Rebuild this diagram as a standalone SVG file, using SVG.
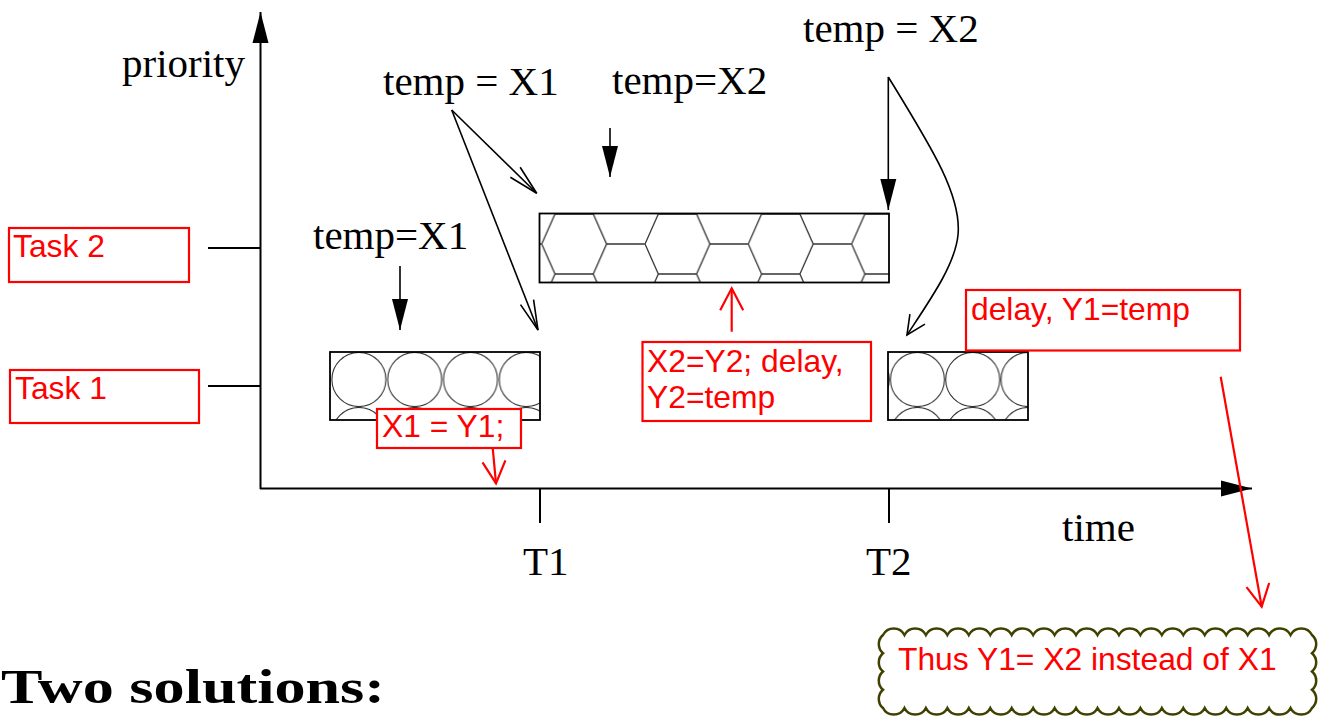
<svg xmlns="http://www.w3.org/2000/svg" width="1327" height="718" viewBox="0 0 1327 718">
<style>
.ser{font-family:"Liberation Serif","Times New Roman",serif;font-size:41px;fill:#000}
.red{font-family:"Liberation Sans",Arial,sans-serif;font-size:31.8px;fill:#ff0000}
.rbox{fill:#fff;stroke:#ff0000;stroke-width:2.2}
.blk{fill:none;stroke:#000;stroke-width:1.6}
.axis{fill:none;stroke:#000;stroke-width:2}
.rl{fill:none;stroke:#ff0000;stroke-width:2.2}
.pbox{fill:none;stroke:#000;stroke-width:1.8}
</style>
<defs>
<marker id="fa" markerUnits="userSpaceOnUse" markerWidth="32" markerHeight="16" refX="31" refY="8" orient="auto" overflow="visible">
<path d="M0,0 L31,8 L0,16 z" fill="#000"/>
</marker>
<marker id="ob" markerUnits="userSpaceOnUse" markerWidth="31" markerHeight="15" refX="30" refY="7" orient="auto" overflow="visible">
<path d="M0,0 L30,7 L0,14" fill="none" stroke="#000" stroke-width="1.6"/>
</marker>
<marker id="oc" markerUnits="userSpaceOnUse" markerWidth="20" markerHeight="18" refX="19" refY="9" orient="auto" overflow="visible">
<path d="M0,0 L19,9 L0,18" fill="none" stroke="#000" stroke-width="1.6"/>
</marker>
<marker id="or" markerUnits="userSpaceOnUse" markerWidth="23" markerHeight="24" refX="22" refY="11.5" orient="auto" overflow="visible">
<path d="M0,0 L22,11.5 L0,23" fill="none" stroke="#ff0000" stroke-width="2.2"/>
</marker>
<pattern id="hex" patternUnits="userSpaceOnUse" x="541.7" y="199" width="103.3" height="60">
<path d="M13.3,15 H51.6 M0,45 L13.3,15 M51.6,15 L64.9,45 H103.3 M0,45 L13.3,75 M0,-15 L13.3,15 M64.9,45 L51.6,75 M64.9,-15 L51.6,15" fill="none" stroke="#333" stroke-width="1.3"/>
</pattern>
<pattern id="circA" patternUnits="userSpaceOnUse" x="331" y="352" width="55.8" height="55">
<circle cx="27.9" cy="27.5" r="27" fill="none" stroke="#333" stroke-width="1.1"/>
</pattern>
<pattern id="circC" patternUnits="userSpaceOnUse" x="889.8" y="352" width="55.3" height="55">
<circle cx="27.65" cy="27.5" r="27" fill="none" stroke="#333" stroke-width="1.1"/>
</pattern>
</defs>
<rect x="0" y="0" width="1327" height="718" fill="#fff"/>

<g id="axes">
<path class="axis" d="M260.5,489 V12" marker-end="url(#fa)"/>
<path class="axis" d="M260,488.5 H1252" marker-end="url(#fa)"/>
<path class="axis" d="M208,248 H260 M208,386 H260 M540,489 V523 M889,489 V523"/>
<text class="ser" x="122" y="77">priority</text>
<text class="ser" x="1062" y="541">time</text>
<text class="ser" x="523" y="575">T1</text>
<text class="ser" x="866" y="575">T2</text>
</g>

<g id="task2-label">
<rect class="rbox" x="9" y="228" width="180" height="54"/>
<text class="red" x="13" y="257">Task 2</text>
</g>
<g id="task1-label">
<rect class="rbox" x="10" y="370" width="189" height="53"/>
<text class="red" x="15" y="399">Task 1</text>
</g>

<g id="task1-run1">
<rect x="330" y="352" width="210" height="68" fill="url(#circA)"/>
<rect class="pbox" x="330" y="352" width="210" height="68"/>
</g>
<g id="task2-run">
<rect x="539.5" y="213.5" width="349.5" height="69" fill="url(#hex)"/>
<rect class="pbox" x="539.5" y="213.5" width="349.5" height="69"/>
</g>
<g id="task1-run2">
<rect x="888" y="352" width="140" height="68" fill="url(#circC)"/>
<rect class="pbox" x="888" y="352" width="140" height="68"/>
</g>

<g id="labels">
<text class="ser" x="383" y="95">temp = X1</text>
<text class="ser" x="612" y="94">temp=X2</text>
<text class="ser" x="803" y="42">temp = X2</text>
<text class="ser" x="313" y="249">temp=X1</text>
</g>

<g id="connectors">
<path class="blk" d="M400,266 V330" marker-end="url(#fa)"/>
<path class="blk" d="M610,128 V177" marker-end="url(#fa)"/>
<path class="blk" d="M888.3,77 V210" marker-end="url(#fa)"/>
<path class="blk" d="M888.3,77 C930,145 962,195 958,235 C955,265 930,300 907,335" marker-end="url(#oc)"/>
<path class="blk" d="M451.7,110 L536.7,193.3" marker-end="url(#ob)"/>
<path class="blk" d="M451.7,110 L538,330" marker-end="url(#ob)"/>
<path class="rl" d="M492.7,448 L496,483.3" marker-end="url(#or)"/>
<path class="rl" d="M731.7,331.7 V288.3" marker-end="url(#or)"/>
<path class="rl" d="M1220.7,376.7 L1261.7,606.7" marker-end="url(#or)"/>
</g>

<g id="note-x1">
<rect class="rbox" x="377" y="409" width="144" height="39"/>
<text class="red" x="382" y="437">X1 = Y1;</text>
</g>
<g id="note-x2">
<rect class="rbox" x="642.5" y="342" width="228.5" height="79"/>
<text class="red" x="647" y="372">X2=Y2; delay,</text>
<text class="red" x="647" y="408">Y2=temp</text>
</g>
<g id="note-delay">
<rect class="rbox" x="966" y="290" width="274" height="60.5"/>
<text class="red" x="971" y="320">delay, Y1=temp</text>
</g>

<g id="cloud">
<path fill="#fff" stroke="#404000" stroke-width="2.5" d="M883,635
a12,12 0 0,1 21.45,0 a12,12 0 0,1 21.45,0 a12,12 0 0,1 21.45,0 a12,12 0 0,1 21.45,0 a12,12 0 0,1 21.45,0
a12,12 0 0,1 21.45,0 a12,12 0 0,1 21.45,0 a12,12 0 0,1 21.45,0 a12,12 0 0,1 21.45,0 a12,12 0 0,1 21.45,0
a12,12 0 0,1 21.45,0 a12,12 0 0,1 21.45,0 a12,12 0 0,1 21.45,0 a12,12 0 0,1 21.45,0 a12,12 0 0,1 21.45,0
a12,12 0 0,1 21.45,0 a12,12 0 0,1 21.45,0 a12,12 0 0,1 21.45,0 a12,12 0 0,1 21.45,0 a12,12 0 0,1 21.45,0
a12,12 0 0,1 0,18.25 a12,12 0 0,1 0,18.25 a12,12 0 0,1 0,18.25 a12,12 0 0,1 0,18.25
a12,12 0 0,1 -21.45,0 a12,12 0 0,1 -21.45,0 a12,12 0 0,1 -21.45,0 a12,12 0 0,1 -21.45,0 a12,12 0 0,1 -21.45,0
a12,12 0 0,1 -21.45,0 a12,12 0 0,1 -21.45,0 a12,12 0 0,1 -21.45,0 a12,12 0 0,1 -21.45,0 a12,12 0 0,1 -21.45,0
a12,12 0 0,1 -21.45,0 a12,12 0 0,1 -21.45,0 a12,12 0 0,1 -21.45,0 a12,12 0 0,1 -21.45,0 a12,12 0 0,1 -21.45,0
a12,12 0 0,1 -21.45,0 a12,12 0 0,1 -21.45,0 a12,12 0 0,1 -21.45,0 a12,12 0 0,1 -21.45,0 a12,12 0 0,1 -21.45,0
a12,12 0 0,1 0,-18.25 a12,12 0 0,1 0,-18.25 a12,12 0 0,1 0,-18.25 a12,12 0 0,1 0,-18.25 z"/>
<text class="red" x="898" y="670">Thus Y1= X2 instead of X1</text>
</g>

<g id="title">
<text x="1" y="703" font-family="'Liberation Serif','Times New Roman',serif" font-weight="bold" font-size="48" textLength="384" lengthAdjust="spacingAndGlyphs">Two solutions:</text>
</g>
</svg>
